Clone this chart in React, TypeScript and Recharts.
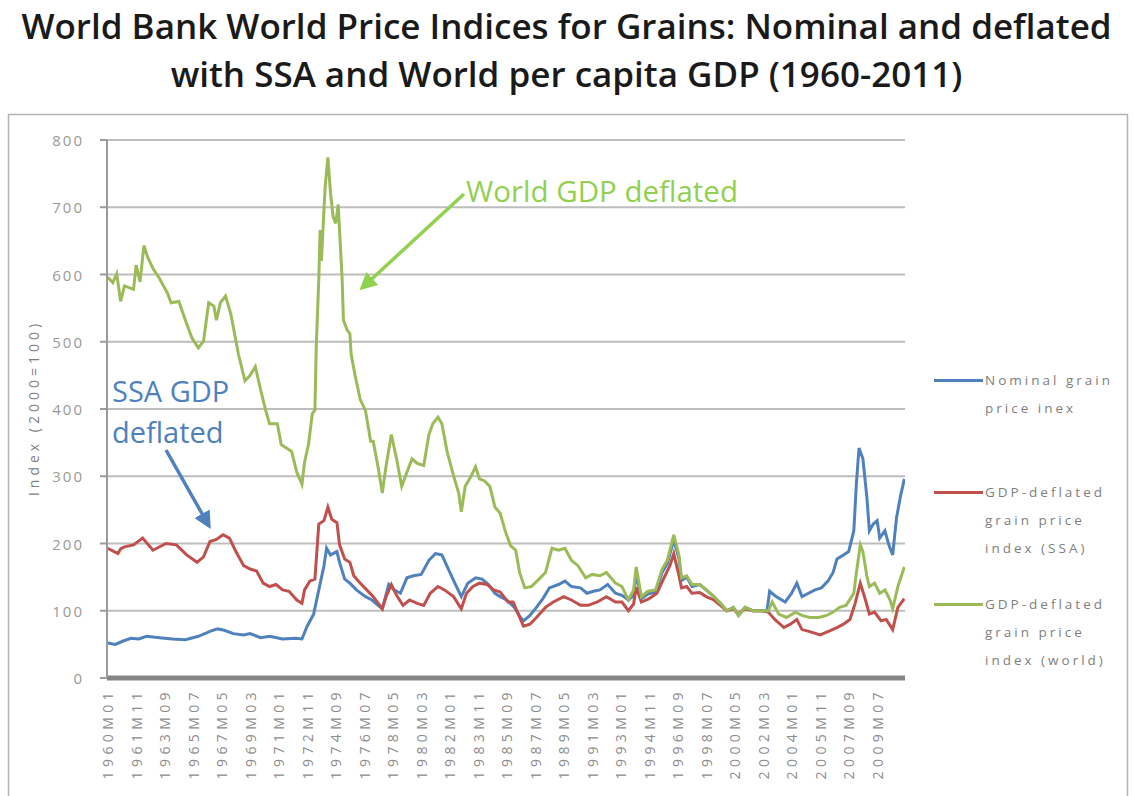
import React from 'react';
import { LineChart, Line, XAxis, YAxis, CartesianGrid } from 'recharts';

// x tick labels, one every 22 months
const tickLabels = [
  '1960M01', '1961M11', '1963M09', '1965M07', '1967M05', '1969M03', '1971M01',
  '1972M11', '1974M09', '1976M07', '1978M05', '1980M03', '1982M01', '1983M11',
  '1985M09', '1987M07', '1989M05', '1991M03', '1993M01', '1994M11', '1996M09',
  '1998M07', '2000M05', '2002M03', '2004M01', '2005M11', '2007M09', '2009M07',
];
const yTicks = [0, 100, 200, 300, 400, 500, 600, 700, 800];
const lastMonth = 615; // 2011M04

// months counted from 1960M01 = 0
const nominalMonths = [
  0, 6, 12, 18, 24, 30, 40, 50, 60, 70, 80, 85, 90, 97, 105, 110, 118, 125, 135, 145,
  150, 154, 159, 163, 167, 169, 172, 177, 179, 183, 187, 192, 199, 204, 212, 217, 221, 226, 231, 236,
  242, 248, 253, 258, 263, 268, 273, 278, 284, 289, 294, 299, 303, 308, 314, 318, 321, 326, 331, 336,
  341, 348, 353, 358, 365, 370, 375, 380, 386, 392, 397, 402, 406, 408, 412, 417, 423, 428, 432, 437,
  441, 443, 447, 451, 457, 462, 468, 473, 478, 483, 487, 492, 498, 505, 509, 511, 516, 523, 528, 532,
  536, 541, 546, 551, 556, 560, 563, 568, 572, 576, 578, 580, 583, 586, 588, 591, 594, 596, 600, 603,
  606, 609, 612, 615,
];
const nominalValues = [
  52, 50, 55, 59, 58, 62, 60, 58, 57, 62, 70, 73, 71, 66, 64, 66, 60, 62, 58, 59,
  58, 77, 95, 131, 167, 193, 183, 188, 172, 147, 141, 131, 121, 116, 103, 139, 131, 126, 149, 152,
  154, 175, 185, 183, 162, 141, 121, 141, 149, 147, 139, 126, 121, 116, 105, 92, 85, 93, 105, 118,
  134, 139, 144, 136, 134, 126, 129, 131, 139, 126, 123, 116, 123, 155, 118, 125, 128, 157, 170, 205,
  178, 145, 150, 136, 139, 131, 121, 111, 100, 105, 93, 105, 100, 100, 100, 129, 121, 113, 126, 141,
  121, 126, 131, 134, 144, 157, 177, 183, 188, 219, 290, 342, 326, 270, 219, 229, 234, 208, 219, 198,
  183, 239, 270, 296,
];

const ssaMonths = [
  0, 5, 8, 10, 13, 20, 27, 35, 45, 53, 61, 69, 74, 79, 84, 89, 94, 99, 105, 110,
  115, 120, 125, 130, 135, 140, 146, 150, 152, 156, 160, 163, 167, 170, 173, 177, 179, 183, 187, 190,
  195, 200, 205, 212, 215, 219, 223, 228, 233, 239, 244, 249, 255, 260, 267, 273, 277, 282, 287, 293,
  298, 303, 309, 313, 317, 321, 326, 331, 338, 344, 352, 358, 365, 371, 378, 385, 392, 397, 402, 406,
  408, 412, 418, 424, 429, 434, 437, 441, 443, 447, 451, 457, 462, 468, 473, 478, 483, 487, 492, 498,
  505, 510, 515, 522, 527, 532, 536, 542, 550, 556, 563, 568, 573, 577, 581, 585, 588, 592, 597, 601,
  606, 610, 615,
];
const ssaValues = [
  193, 188, 185, 192, 195, 198, 208, 190, 200, 198, 183, 172, 180, 203, 206, 213, 208, 188, 167, 162,
  159, 141, 136, 139, 131, 129, 116, 111, 131, 144, 147, 229, 234, 254, 236, 231, 198, 177, 172, 152,
  141, 131, 121, 103, 121, 139, 123, 108, 116, 111, 108, 126, 136, 131, 121, 103, 126, 136, 141, 139,
  131, 128, 113, 113, 95, 77, 80, 90, 105, 113, 121, 116, 108, 108, 113, 121, 113, 113, 100, 110,
  135, 113, 118, 126, 147, 167, 185, 152, 134, 136, 126, 127, 121, 116, 108, 100, 103, 95, 103, 100,
  100, 98, 87, 75, 80, 87, 72, 69, 64, 69, 75, 80, 87, 111, 141, 116, 95, 98, 85, 87,
  72, 105, 118,
];

const worldMonths = [
  0, 4, 7, 10, 13, 17, 20, 22, 25, 28, 31, 35, 40, 46, 49, 55, 60, 65, 70, 74,
  78, 82, 84, 87, 91, 95, 97, 101, 106, 110, 114, 118, 122, 125, 131, 134, 138, 142, 146, 150,
  152, 155, 158, 160, 161, 163, 164, 165, 167, 168, 170, 172, 174, 176, 178, 179, 181, 182, 185, 187,
  188, 191, 195, 199, 203, 205, 209, 212, 215, 219, 223, 227, 231, 235, 239, 244, 248, 251, 255, 258,
  262, 267, 271, 273, 276, 280, 284, 287, 291, 295, 299, 303, 307, 311, 315, 318, 322, 327, 333, 338,
  343, 348, 353, 358, 363, 369, 374, 380, 385, 392, 397, 402, 406, 408, 412, 417, 423, 428, 432, 437,
  441, 443, 447, 451, 457, 462, 468, 473, 478, 483, 487, 492, 498, 505, 510, 513, 518, 524, 531, 536,
  542, 549, 555, 560, 565, 570, 576, 578, 581, 583, 586, 588, 592, 596, 600, 604, 606, 610, 615,
];
const worldValues = [
  596, 588, 601, 560, 583, 580, 578, 614, 589, 643, 625, 609, 594, 573, 558, 560, 532, 506, 491, 501,
  558, 553, 532, 558, 568, 542, 522, 481, 442, 450, 463, 429, 398, 378, 378, 347, 342, 337, 306, 288,
  321, 347, 393, 398, 491, 594, 666, 620, 697, 733, 774, 722, 686, 676, 704, 666, 594, 532, 517, 512,
  481, 450, 414, 398, 352, 352, 311, 275, 316, 362, 326, 285, 306, 326, 319, 316, 362, 378, 388, 378,
  337, 301, 275, 247, 285, 298, 314, 296, 293, 285, 254, 245, 218, 197, 190, 157, 134, 136, 147, 157,
  193, 190, 193, 175, 167, 149, 154, 152, 157, 141, 136, 116, 131, 165, 121, 129, 131, 162, 175, 213,
  183, 149, 152, 139, 139, 131, 121, 111, 100, 105, 93, 105, 100, 100, 100, 113, 95, 90, 98, 93,
  90, 90, 93, 98, 105, 108, 126, 157, 198, 188, 152, 136, 141, 126, 131, 116, 103, 136, 165,
];

const toPoints = (months: number[], values: number[]) =>
  months.map((m, i) => ({ m, v: values[i] }));

const series = [
  { key: 'nominal', color: '#4F81BD', data: toPoints(nominalMonths, nominalValues), legend: ['Nominal grain', 'price inex'] },
  { key: 'ssa', color: '#C0504D', data: toPoints(ssaMonths, ssaValues), legend: ['GDP-deflated', 'grain price', 'index (SSA)'] },
  { key: 'world', color: '#9BBB59', data: toPoints(worldMonths, worldValues), legend: ['GDP-deflated', 'grain price', 'index (world)'] },
];

const monthOf = (label: string) =>
  (parseInt(label.slice(0, 4), 10) - 1960) * 12 + parseInt(label.slice(5), 10) - 1;
const tickMonths = tickLabels.map(monthOf);

const XTick = (props: any) => {
  const { x, y, payload } = props;
  const label = tickLabels[tickMonths.indexOf(payload.value)];
  const ty = y + 2;
  return (
    <text
      x={x}
      y={ty}
      transform={`rotate(-90 ${x} ${ty})`}
      textAnchor="end"
      dominantBaseline="central"
      fill="#8c8c8c"
      fontSize={14}
      letterSpacing={4.4}
    >
      {label}
    </text>
  );
};

const YTick = (props: any) => {
  const { x, y, payload } = props;
  return (
    <text x={84} y={y} textAnchor="end" dominantBaseline="central" fill="#9a9a9a" fontSize={15} letterSpacing={2}>
      {payload.value}
    </text>
  );
};

export default function App() {
  return (
    <div
      style={{
        position: 'absolute',
        left: 0,
        top: 0,
        width: 1133,
        height: 796,
        background: '#fff',
        overflow: 'hidden',
        fontFamily: '"Open Sans", sans-serif',
      }}
    >
      <div
        style={{
          position: 'absolute',
          top: 2,
          left: 0,
          width: 1133,
          textAlign: 'center',
          fontSize: 35,
          fontWeight: 600,
          lineHeight: '48px',
          color: '#1a1a1a',
          whiteSpace: 'nowrap',
        }}
      >
        World Bank World Price Indices for Grains: Nominal and deflated
        <br />
        with SSA and World per capita GDP (1960-2011)
      </div>

      <div style={{ position: 'absolute', left: 0, top: 0 }}>
        <LineChart width={1133} height={796} margin={{ top: 140, right: 228, left: 47, bottom: 8 }}>
          <CartesianGrid vertical={false} stroke="#bdbdbd" strokeWidth={2} />
          <XAxis
            type="number"
            dataKey="m"
            domain={[-0.5, lastMonth + 0.5]}
            ticks={tickMonths}
            interval={0}
            allowDataOverflow
            height={110}
            tickLine={false}
            axisLine={{ stroke: '#858585', strokeWidth: 5 }}
            tick={<XTick />}
          />
          <YAxis
            type="number"
            domain={[0, 800]}
            ticks={yTicks}
            interval={0}
            width={60}
            tickSize={7}
            tickLine={{ stroke: '#9a9a9a', strokeWidth: 2 }}
            axisLine={{ stroke: '#9a9a9a', strokeWidth: 2 }}
            tick={<YTick />}
          />
          {series.map((s) => (
            <Line
              key={s.key}
              data={s.data}
              dataKey="v"
              type="linear"
              stroke={s.color}
              strokeWidth={3}
              dot={false}
              activeDot={false}
              isAnimationActive={false}
            />
          ))}
        </LineChart>
      </div>

      {/* legend */}
      <div style={{ position: 'absolute', left: 934, top: 366 }}>
        {series.map((s) => (
          <div key={s.key} style={{ position: 'relative', height: 112 }}>
            <div
              style={{
                position: 'absolute',
                left: 0,
                top: 13,
                width: 49,
                height: 3,
                background: s.color,
              }}
            />
            <div
              style={{
                position: 'absolute',
                left: 51,
                top: 0,
                fontSize: 13.5,
                lineHeight: '28px',
                letterSpacing: 3,
                color: '#808080',
                whiteSpace: 'nowrap',
              }}
            >
              {s.legend.map((t) => (
                <div key={t}>{t}</div>
              ))}
            </div>
          </div>
        ))}
      </div>

      {/* frame, axis title and annotations */}
      <svg width={1133} height={796} style={{ position: 'absolute', left: 0, top: 0, pointerEvents: 'none' }}>
        <defs>
          <marker id="headG" viewBox="0 0 10 10" refX="8" refY="5" markerWidth="5" markerHeight="5" orient="auto">
            <path d="M0,0 L10,5 L0,10 z" fill="#92D050" />
          </marker>
          <marker id="headB" viewBox="0 0 10 10" refX="8" refY="5" markerWidth="5" markerHeight="5" orient="auto">
            <path d="M0,0 L10,5 L0,10 z" fill="#4F81BD" />
          </marker>
        </defs>
        <rect x={8.5} y={114.5} width={1119} height={700} fill="none" stroke="#b3b3b3" strokeWidth={1.5} />
        <text
          x={33}
          y={408}
          transform="rotate(-90 33 408)"
          textAnchor="middle"
          dominantBaseline="central"
          fontSize={14}
          letterSpacing={4}
          fill="#7f7f7f"
        >
          Index (2000=100)
        </text>

        <text x={466} y={202} fontSize={29.5} fill="#92D050">World GDP deflated</text>
        <line x1={464} y1={194} x2={362} y2={288} stroke="#92D050" strokeWidth={3.5} markerEnd="url(#headG)" />

        <text x={112} y={402} fontSize={29} fill="#4F81BD">SSA GDP</text>
        <text x={112} y={443} fontSize={29} fill="#4F81BD">deflated</text>
        <line x1={166} y1={450} x2={209} y2={526} stroke="#4F81BD" strokeWidth={3.5} markerEnd="url(#headB)" />
      </svg>
    </div>
  );
}
